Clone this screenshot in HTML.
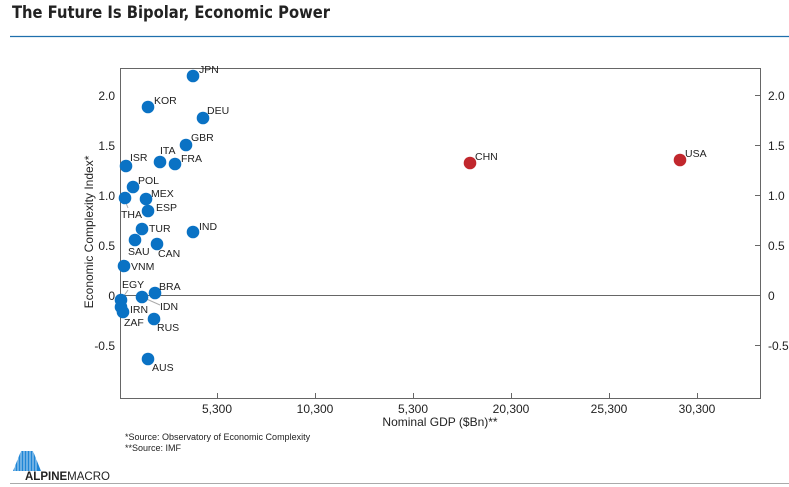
<!DOCTYPE html>
<html><head><meta charset="utf-8"><style>
body{margin:0;background:#fff;}
svg{display:block;font-family:"Liberation Sans",Arial,sans-serif;}
</style></head><body>
<svg width="789" height="487" viewBox="0 0 789 487" xmlns="http://www.w3.org/2000/svg">
<text x="12" y="18" font-size="16.5" font-weight="bold" fill="#222" font-family="'DejaVu Sans Condensed','Liberation Sans Narrow','Liberation Sans',sans-serif" textLength="318" lengthAdjust="spacingAndGlyphs">The Future Is Bipolar, Economic Power</text>
<line x1="10" y1="36.5" x2="789" y2="36.5" stroke="#1f6fad" stroke-width="1.2"/>
<rect x="120.5" y="68.5" width="640" height="330" fill="none" stroke="#666" stroke-width="1"/>
<line x1="120" y1="295.5" x2="760" y2="295.5" stroke="#666" stroke-width="1"/>
<g stroke="#666" stroke-width="1">
<line x1="217.5" y1="393" x2="217.5" y2="399"/><line x1="315.5" y1="393" x2="315.5" y2="399"/>
<line x1="413.5" y1="393" x2="413.5" y2="399"/><line x1="511.5" y1="393" x2="511.5" y2="399"/>
<line x1="609.5" y1="393" x2="609.5" y2="399"/><line x1="697.5" y1="393" x2="697.5" y2="399"/>
<line x1="755" y1="95.5" x2="761" y2="95.5"/><line x1="755" y1="145.5" x2="761" y2="145.5"/>
<line x1="755" y1="195.5" x2="761" y2="195.5"/><line x1="755" y1="245.5" x2="761" y2="245.5"/>
<line x1="755" y1="345.5" x2="761" y2="345.5"/>
</g>
<g font-size="12" fill="#222">
<g text-anchor="end">
<text x="115" y="100">2.0</text><text x="115" y="150">1.5</text><text x="115" y="200">1.0</text>
<text x="115" y="250">0.5</text><text x="115" y="300">0</text><text x="115" y="350">-0.5</text>
</g>
<text x="768" y="100">2.0</text><text x="768" y="150">1.5</text><text x="768" y="200">1.0</text>
<text x="768" y="250">0.5</text><text x="768" y="300">0</text><text x="768" y="350">-0.5</text>
<g text-anchor="middle">
<text x="217" y="413">5,300</text><text x="315" y="413">10,300</text><text x="413" y="413">5,300</text>
<text x="511" y="413">20,300</text><text x="609" y="413">25,300</text><text x="697" y="413">30,300</text>
<text x="440" y="426">Nominal GDP ($Bn)**</text>
</g>
<text transform="translate(93,232) rotate(-90)" text-anchor="middle">Economic Complexity Index*</text>
</g>
<g font-size="9" fill="#222">
<text x="125" y="440">*Source: Observatory of Economic Complexity</text>
<text x="125" y="451">**Source: IMF</text>
</g>
<g stroke="#aaa" stroke-width="1">
<line x1="124" y1="198" x2="128" y2="208"/>
<line x1="121" y1="300" x2="128" y2="290"/>
<line x1="142" y1="297" x2="160" y2="305"/>
</g>
<g fill="#0a72c4">
<circle cx="193" cy="76" r="6.3"/><circle cx="148" cy="107" r="6.3"/><circle cx="203" cy="118" r="6.3"/>
<circle cx="186" cy="145" r="6.3"/><circle cx="160" cy="162" r="6.3"/><circle cx="175" cy="164" r="6.3"/>
<circle cx="126" cy="166" r="6.3"/><circle cx="133" cy="187" r="6.3"/><circle cx="125" cy="198" r="6.3"/>
<circle cx="146" cy="199" r="6.3"/><circle cx="148" cy="211" r="6.3"/><circle cx="142" cy="229" r="6.3"/>
<circle cx="193" cy="232" r="6.3"/><circle cx="135" cy="240" r="6.3"/><circle cx="157" cy="244" r="6.3"/>
<circle cx="124" cy="266" r="6.3"/><circle cx="155" cy="293" r="6.3"/><circle cx="142" cy="297" r="6.3"/>
<circle cx="121" cy="300" r="6.3"/><circle cx="121" cy="307" r="6.3"/><circle cx="123" cy="312" r="6.3"/>
<circle cx="154" cy="319" r="6.3"/><circle cx="148" cy="359" r="6.3"/>
</g>
<g fill="#c1272d"><circle cx="470" cy="163" r="6.3"/><circle cx="680" cy="160" r="6.3"/></g>
<g font-size="10.5" fill="#222">
<text x="199" y="73">JPN</text><text x="154" y="104">KOR</text><text x="207" y="114">DEU</text>
<text x="191" y="141">GBR</text><text x="160" y="154">ITA</text><text x="181" y="162">FRA</text>
<text x="130" y="161">ISR</text><text x="138" y="184">POL</text><text x="121" y="218">THA</text>
<text x="151" y="197">MEX</text><text x="156" y="211">ESP</text><text x="149" y="232">TUR</text>
<text x="199" y="230">IND</text><text x="128" y="255">SAU</text><text x="158" y="257">CAN</text>
<text x="131" y="270">VNM</text><text x="159" y="290">BRA</text><text x="160" y="310">IDN</text>
<text x="122" y="288">EGY</text><text x="130" y="313">IRN</text><text x="124" y="326">ZAF</text>
<text x="157" y="331">RUS</text><text x="152" y="371">AUS</text>
<text x="475" y="160">CHN</text><text x="685" y="157">USA</text>
</g>
<g>
<polygon points="13,471 21,451 33,451 41,471" fill="#1f86d6"/>
<g stroke="#fff" stroke-width="0.7">
<line x1="15" y1="451" x2="15" y2="471"/><line x1="18" y1="451" x2="18" y2="471"/>
<line x1="21" y1="451" x2="21" y2="471"/><line x1="24" y1="451" x2="24" y2="471"/>
<line x1="27" y1="451" x2="27" y2="471"/><line x1="30" y1="451" x2="30" y2="471"/>
<line x1="33" y1="451" x2="33" y2="471"/><line x1="36" y1="451" x2="36" y2="471"/>
</g>
<text x="25" y="480" font-size="11.5" fill="#222"><tspan font-weight="bold">ALPINE</tspan>MACRO</text>
<line x1="10" y1="483.5" x2="789" y2="483.5" stroke="#aaa" stroke-width="1"/>
</g>
</svg>
</body></html>
